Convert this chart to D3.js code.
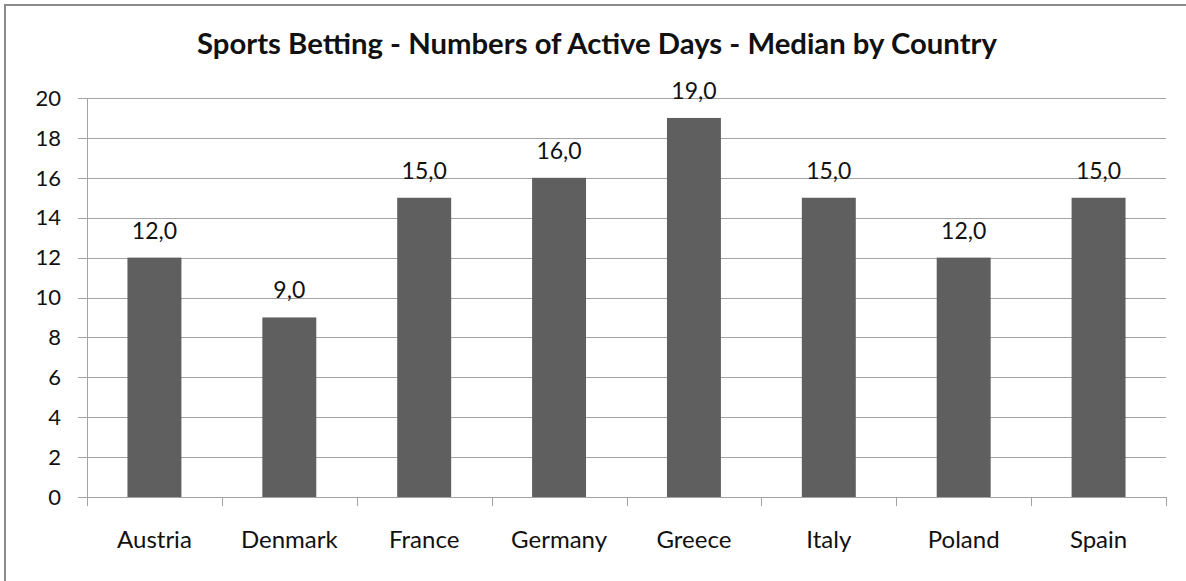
<!DOCTYPE html>
<html>
<head>
<meta charset="utf-8">
<script src="https://cdn.jsdelivr.net/npm/d3@7"></script>
<style>
  html, body { margin: 0; padding: 0; background: #fff; }
  svg text { font-family: Lato, "Open Sans", sans-serif; fill: #111; }
</style>
</head>
<body>
<div id="container"></div>
<script>
var countries = ["Austria", "Denmark", "France", "Germany", "Greece", "Italy", "Poland", "Spain"];
var medians = [12, 9, 15, 16, 19, 15, 12, 15];
var yTicks = [0, 2, 4, 6, 8, 10, 12, 14, 16, 18, 20];
var title = "Sports Betting - Numbers of Active Days - Median by Country";

var W = 1186, H = 581;
var plot = { left: 87, right: 1166, top: 98, bottom: 497 };

var svg = d3.select('#container').append('svg')
  .attr('width', W).attr('height', H);

// chart frame (right and bottom edges fall outside the picture)
svg.append('rect')
  .attr('x', 5).attr('y', 5)
  .attr('width', W + 10).attr('height', H + 10)
  .attr('fill', '#fff')
  .attr('stroke', '#8a8a8a')
  .attr('stroke-width', 2);

var x = d3.scaleBand()
  .domain(countries)
  .range([plot.left, plot.right])
  .paddingInner(0.6)
  .paddingOuter(0.3);

var y = d3.scaleLinear()
  .domain([0, 20])
  .range([plot.bottom, plot.top]);

// gridlines
svg.append('g').selectAll('line')
  .data(yTicks)
  .enter().append('line')
  .attr('x1', plot.left - 9)
  .attr('x2', plot.right)
  .attr('y1', function(d) { return Math.round(y(d)) + 0.5; })
  .attr('y2', function(d) { return Math.round(y(d)) + 0.5; })
  .attr('stroke', '#a3a3a3')
  .attr('stroke-width', 1);

// y axis line
svg.append('line')
  .attr('x1', plot.left + 0.5).attr('x2', plot.left + 0.5)
  .attr('y1', plot.top).attr('y2', plot.bottom + 1)
  .attr('stroke', '#a3a3a3');

// y tick labels
svg.append('g').selectAll('text')
  .data(yTicks)
  .enter().append('text')
  .attr('x', 61)
  .attr('y', function(d) { return y(d); })
  .attr('dy', '0.35em')
  .attr('text-anchor', 'end')
  .style('font-size', '22px')
  .text(function(d) { return d; });

// category boundary ticks
var bounds = d3.range(countries.length + 1).map(function(i) { return plot.left + i * (plot.right - plot.left) / countries.length; });
svg.append('g').selectAll('line')
  .data(bounds)
  .enter().append('line')
  .attr('x1', function(d) { return Math.round(d) + 0.5; })
  .attr('x2', function(d) { return Math.round(d) + 0.5; })
  .attr('y1', plot.bottom)
  .attr('y2', plot.bottom + 9)
  .attr('stroke', '#a3a3a3');

// bars
svg.append('g').selectAll('rect')
  .data(countries)
  .enter().append('rect')
  .attr('x', function(d) { return x(d); })
  .attr('width', x.bandwidth())
  .attr('y', function(d, i) { return y(medians[i]); })
  .attr('height', function(d, i) { return y(0) - y(medians[i]); })
  .attr('fill', '#5f5f5f');

// value labels
svg.append('g').selectAll('text')
  .data(countries)
  .enter().append('text')
  .attr('x', function(d) { return x(d) + x.bandwidth() / 2; })
  .attr('y', function(d, i) { return y(medians[i]) - 19; })
  .attr('text-anchor', 'middle')
  .style('font-size', '23px')
  .text(function(d, i) { return medians[i].toFixed(1).replace('.', ','); });

// category labels
svg.append('g').selectAll('text')
  .data(countries)
  .enter().append('text')
  .attr('x', function(d) { return x(d) + x.bandwidth() / 2; })
  .attr('y', 548)
  .attr('text-anchor', 'middle')
  .style('font-size', '24px')
  .text(function(d) { return d; });

// title
svg.append('text')
  .attr('x', 597)
  .attr('y', 54)
  .attr('text-anchor', 'middle')
  .style('font-size', '29.3px')
  .style('font-weight', 'bold')
  .text(title);
</script>
</body>
</html>
